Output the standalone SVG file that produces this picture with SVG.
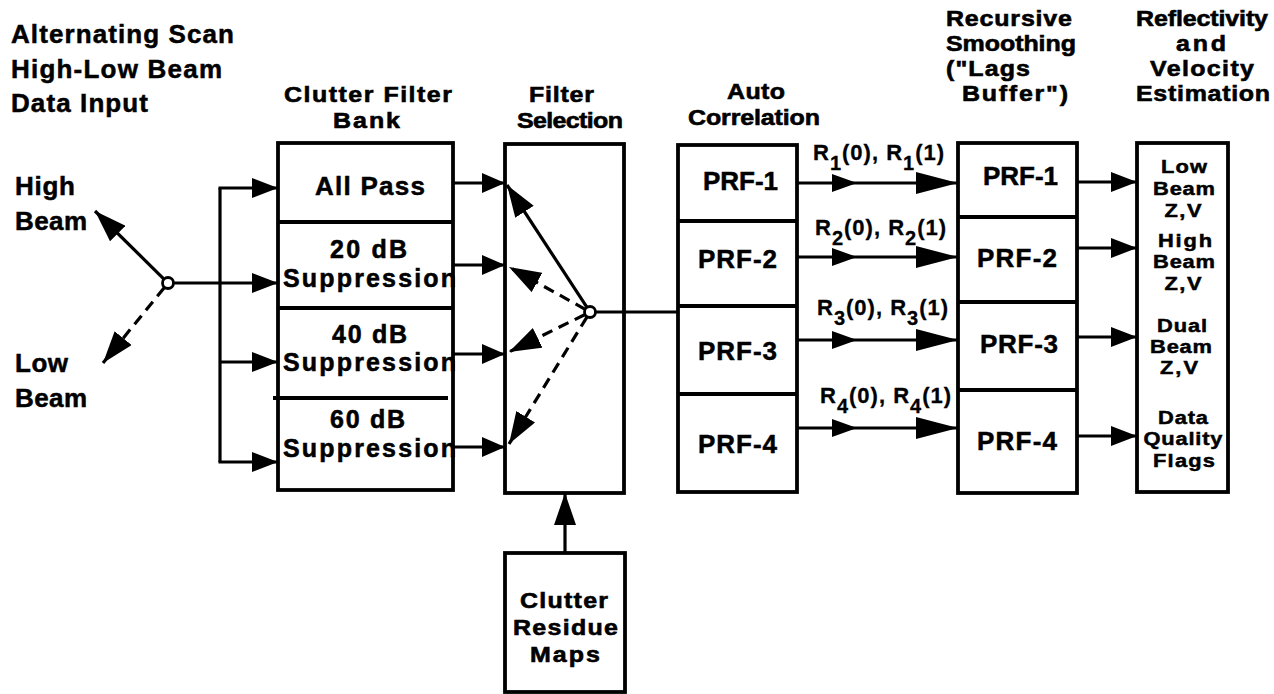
<svg xmlns="http://www.w3.org/2000/svg" width="1274" height="694" viewBox="0 0 1274 694">
<style>
.t{font-family:"Liberation Sans",Arial,Helvetica,sans-serif;font-weight:bold;font-size:26px;fill:#000;stroke:#000;stroke-width:0.5}
.h{font-size:22px;stroke-width:0.6}
.b{font-size:25px;stroke-width:0.55}
.c{text-anchor:middle}
.s{font-size:19px;stroke-width:0.5}
.r{font-size:22px;letter-spacing:1px;stroke-width:0.3}
.sub{font-size:20px}
.box{fill:none;stroke:#000;stroke-width:3.8}
.dv{stroke:#000;stroke-width:3.8}
.ln{stroke:#000;stroke-width:3.2;fill:none}
.dash{stroke-dasharray:11 7}
.node{fill:#fff;stroke:#000;stroke-width:2.8}
</style>
<defs>
<marker id="m" viewBox="0 0 26 20" refX="26" refY="10" markerWidth="26" markerHeight="20" orient="auto" markerUnits="userSpaceOnUse"><path d="M0,0L26,10L0,20z" fill="#000"/></marker>
<marker id="ms" viewBox="0 0 23 20" refX="23" refY="10" markerWidth="23" markerHeight="20" orient="auto" markerUnits="userSpaceOnUse"><path d="M0,0L23,10L0,20z" fill="#000"/></marker>
<marker id="ml" viewBox="0 0 32 22" refX="32" refY="11" markerWidth="32" markerHeight="22" orient="auto" markerUnits="userSpaceOnUse"><path d="M0,0L32,11L0,22z" fill="#000"/></marker>
<marker id="mm" viewBox="0 0 25 18" refX="25" refY="9" markerWidth="25" markerHeight="18" orient="auto" markerUnits="userSpaceOnUse"><path d="M0,0L25,9L0,18z" fill="#000"/></marker>
<marker id="mlong" viewBox="0 0 42 22" refX="42" refY="11" markerWidth="42" markerHeight="22" orient="auto" markerUnits="userSpaceOnUse"><path d="M0,0L42,11L0,22z" fill="#000"/></marker>
</defs>
<rect x="0" y="0" width="1274" height="694" fill="#fff"/>

<g id="input-header">
<text class="t" x="11" y="43" textLength="223">Alternating Scan</text>
<text class="t" x="11" y="78" textLength="211">High-Low Beam</text>
<text class="t" x="11" y="112" textLength="137">Data Input</text>
</g>

<g id="beam-switch">
<text class="t" x="15" y="195" textLength="60">High</text>
<text class="t" x="15" y="230" textLength="72">Beam</text>
<text class="t" x="15" y="372" textLength="53">Low</text>
<text class="t" x="15" y="407" textLength="72">Beam</text>
</g>

<g id="clutter-filter-bank">
<text class="t h" transform="translate(284,102) scale(1.136,1)" textLength="147.9">Clutter Filter</text>
<text class="t h" transform="translate(333,128) scale(1.136,1)" textLength="59">Bank</text>
<text class="t" x="315" y="195" textLength="110">All Pass</text>
<text class="t b" x="330" y="258" textLength="77">20 dB</text>
<text class="t b" x="283" y="287" textLength="173">Suppression</text>
<text class="t b" x="332" y="343" textLength="75">40 dB</text>
<text class="t b" x="283" y="371" textLength="173">Suppression</text>
<text class="t b" x="330" y="428" textLength="75">60 dB</text>
<text class="t b" x="283" y="457" textLength="173">Suppression</text>
<rect class="box" x="278" y="143" width="175" height="347"/>
<line class="dv" x1="278" y1="222" x2="453" y2="222"/>
<line class="dv" x1="278" y1="308" x2="453" y2="308"/>
<line class="dv" x1="273" y1="398" x2="448" y2="398"/>
</g>

<g id="filter-selection">
<text class="t h" transform="translate(529,102) scale(1.136,1)" textLength="57.2">Filter</text>
<text class="t h" transform="translate(517,128) scale(1.136,1)" textLength="93.3">Selection</text>
<rect class="box" x="505" y="144" width="119" height="349"/>
</g>

<g id="clutter-residue-maps">
<rect class="box" x="505" y="553" width="120" height="139"/>
<text class="t h" transform="translate(520,608) scale(1.136,1)" textLength="77.5">Clutter</text>
<text class="t h" transform="translate(513,635) scale(1.136,1)" textLength="92.4">Residue</text>
<text class="t h" transform="translate(530,662) scale(1.136,1)" textLength="61.6">Maps</text>
</g>

<g id="auto-correlation">
<text class="t h c" transform="translate(756,99) scale(1.136,1)" textLength="51">Auto</text>
<text class="t h" transform="translate(688,125) scale(1.136,1)" textLength="116.2">Correlation</text>
<rect class="box" x="678" y="145" width="119" height="347"/>
<line class="dv" x1="678" y1="221" x2="797" y2="221"/>
<line class="dv" x1="678" y1="306" x2="797" y2="306"/>
<line class="dv" x1="678" y1="394" x2="797" y2="394"/>
<text class="t" x="703" y="190" textLength="75">PRF-1</text>
<text class="t" x="698" y="268" textLength="79">PRF-2</text>
<text class="t" x="698" y="360" textLength="79">PRF-3</text>
<text class="t" x="698" y="453" textLength="79">PRF-4</text>
</g>

<g id="recursive-smoothing">
<text class="t h" transform="translate(946,26) scale(1.136,1)" textLength="110.9">Recursive</text>
<text class="t h" transform="translate(946,51) scale(1.136,1)" textLength="114.4">Smoothing</text>
<text class="t h" transform="translate(946,76) scale(1.136,1)" textLength="73.9">("Lags</text>
<text class="t h" transform="translate(962,101) scale(1.136,1)" textLength="93.3">Buffer")</text>
<rect class="box" x="958" y="143" width="119" height="350"/>
<line class="dv" x1="958" y1="217" x2="1077" y2="217"/>
<line class="dv" x1="958" y1="302" x2="1077" y2="302"/>
<line class="dv" x1="958" y1="390" x2="1077" y2="390"/>
<text class="t" x="983" y="185" textLength="75">PRF-1</text>
<text class="t" x="977" y="267" textLength="80">PRF-2</text>
<text class="t" x="980" y="353" textLength="78">PRF-3</text>
<text class="t" x="977" y="450" textLength="80">PRF-4</text>
</g>

<g id="estimation">
<text class="t h" transform="translate(1136,26) scale(1.136,1)" textLength="116.2">Reflectivity</text>
<text class="t h c" transform="translate(1201,51) scale(1.136,1)" textLength="44">and</text>
<text class="t h c" transform="translate(1202,76) scale(1.136,1)" textLength="91.5">Velocity</text>
<text class="t h" transform="translate(1136,101) scale(1.136,1)" textLength="118">Estimation</text>
<rect class="box" x="1137" y="143" width="91" height="349"/>
<text class="t s c" transform="translate(1184,173) scale(1.15,1)" textLength="40">Low</text>
<text class="t s c" transform="translate(1184,195) scale(1.15,1)" textLength="53.9">Beam</text>
<text class="t s c" transform="translate(1183,217) scale(1.15,1)" textLength="32.2">Z,V</text>
<text class="t s c" transform="translate(1185,247) scale(1.15,1)" textLength="47">High</text>
<text class="t s c" transform="translate(1184,268) scale(1.15,1)" textLength="53.9">Beam</text>
<text class="t s c" transform="translate(1183,290) scale(1.15,1)" textLength="32.2">Z,V</text>
<text class="t s c" transform="translate(1182,332) scale(1.15,1)" textLength="43.5">Dual</text>
<text class="t s c" transform="translate(1181,353) scale(1.15,1)" textLength="53.9">Beam</text>
<text class="t s c" transform="translate(1179,374) scale(1.15,1)" textLength="33">Z,V</text>
<text class="t s c" transform="translate(1183,424) scale(1.15,1)" textLength="43.5">Data</text>
<text class="t s c" transform="translate(1183,445) scale(1.15,1)" textLength="68.7">Quality</text>
<text class="t s c" transform="translate(1184,467) scale(1.15,1)" textLength="53.9">Flags</text>
</g>

<g id="connectors">
<line class="ln" x1="163.7" y1="278.8" x2="95" y2="211" marker-end="url(#ml)"/>
<line class="ln dash" x1="164.2" y1="287.7" x2="103" y2="363" marker-end="url(#ml)"/>
<line class="ln" x1="174" y1="283" x2="278" y2="283" marker-end="url(#m)"/>
<path class="ln" d="M220,188V462"/>
<line class="ln" x1="218.5" y1="188" x2="278" y2="188" marker-end="url(#m)"/>
<line class="ln" x1="220" y1="362" x2="278" y2="362" marker-end="url(#m)"/>
<line class="ln" x1="218.5" y1="462" x2="278" y2="462" marker-end="url(#m)"/>
<circle class="node" cx="168" cy="283" r="5.5"/>
<line class="ln" x1="453" y1="183" x2="505" y2="183" marker-end="url(#ms)"/>
<line class="ln" x1="453" y1="265" x2="505" y2="265" marker-end="url(#ms)"/>
<line class="ln" x1="453" y1="354" x2="505" y2="354" marker-end="url(#ms)"/>
<line class="ln" x1="453" y1="447" x2="505" y2="447" marker-end="url(#ms)"/>
<line class="ln" x1="587" y1="307.4" x2="507" y2="185" marker-end="url(#ml)"/>
<line class="ln dash" x1="585.2" y1="309.3" x2="509" y2="267" marker-end="url(#ml)"/>
<line class="ln dash" x1="584.6" y1="314.7" x2="509" y2="352" marker-end="url(#ml)"/>
<line class="ln dash" x1="586.9" y1="317.1" x2="509" y2="444" marker-end="url(#ml)"/>
<line class="ln" x1="595.5" y1="312" x2="678" y2="312"/>
<circle class="node" cx="590" cy="312" r="5.5"/>
<line class="ln" x1="565" y1="553" x2="565" y2="493" marker-end="url(#ml)"/>
<path class="ln" d="M797,183L857,183L958,183" marker-mid="url(#mm)" marker-end="url(#mlong)"/>
<path class="ln" d="M797,257L857,257L958,257" marker-mid="url(#mm)" marker-end="url(#mlong)"/>
<path class="ln" d="M797,340L857,340L958,340" marker-mid="url(#mm)" marker-end="url(#mlong)"/>
<path class="ln" d="M797,428L857,428L958,428" marker-mid="url(#mm)" marker-end="url(#mlong)"/>
<text class="t r" x="813" y="160">R<tspan class="sub" dy="10">1</tspan><tspan dy="-10">(0), R</tspan><tspan class="sub" dy="10">1</tspan><tspan dy="-10">(1)</tspan></text>
<text class="t r" x="815" y="235">R<tspan class="sub" dy="10">2</tspan><tspan dy="-10">(0), R</tspan><tspan class="sub" dy="10">2</tspan><tspan dy="-10">(1)</tspan></text>
<text class="t r" x="817" y="315">R<tspan class="sub" dy="10">3</tspan><tspan dy="-10">(0), R</tspan><tspan class="sub" dy="10">3</tspan><tspan dy="-10">(1)</tspan></text>
<text class="t r" x="820" y="403">R<tspan class="sub" dy="10">4</tspan><tspan dy="-10">(0), R</tspan><tspan class="sub" dy="10">4</tspan><tspan dy="-10">(1)</tspan></text>
<line class="ln" x1="1077" y1="182" x2="1137" y2="182" marker-end="url(#m)"/>
<line class="ln" x1="1077" y1="248" x2="1137" y2="248" marker-end="url(#m)"/>
<line class="ln" x1="1077" y1="337" x2="1137" y2="337" marker-end="url(#m)"/>
<line class="ln" x1="1077" y1="436" x2="1137" y2="436" marker-end="url(#m)"/>
</g>
</svg>
